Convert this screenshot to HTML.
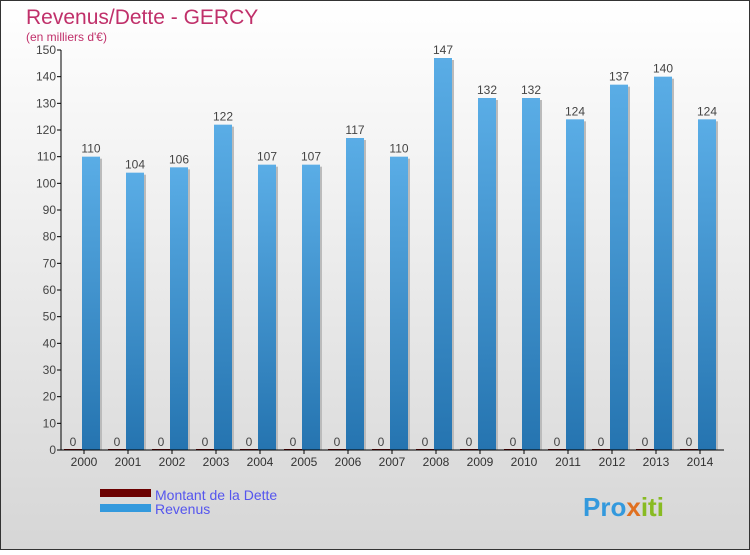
<!DOCTYPE html>
<html><head><meta charset="utf-8"><style>
html,body{margin:0;padding:0}
body{width:750px;height:550px;overflow:hidden;font-family:"Liberation Sans",sans-serif}
</style></head><body>
<svg width="750" height="550" xmlns="http://www.w3.org/2000/svg" id="svg">
<defs>
<linearGradient id="bg" x1="0" y1="0" x2="0" y2="1"><stop offset="0" stop-color="#ffffff"/><stop offset="1" stop-color="#d6d6d6"/></linearGradient>
<linearGradient id="blue" x1="0" y1="0" x2="0" y2="1"><stop offset="0" stop-color="#5aade6"/><stop offset="1" stop-color="#2574b0"/></linearGradient>
</defs>
<rect x="0.5" y="0.5" width="749" height="549" fill="url(#bg)" stroke="#333"/>
<text x="26" y="24" font-size="21" fill="#c0306a">Revenus/Dette - GERCY</text>
<text x="26" y="41" font-size="12" fill="#c0306a">(en milliers d'€)</text>
<g id="plot"></g>
<g>
<rect x="100" y="489" width="51" height="8" fill="#6b0000"/>
<text x="155" y="500" font-size="14" fill="#5555ee">Montant de la Dette</text>
<rect x="100" y="504" width="51" height="8" fill="#3399dd"/>
<text x="155" y="514" font-size="14" fill="#5555ee">Revenus</text>
</g>
<text x="583" y="516" font-size="26" font-weight="bold" fill="#3399dd">Pro<tspan fill="#e07020">x</tspan><tspan fill="#88bb22">iti</tspan></text>
</svg>
<script>
const years=["2000","2001","2002","2003","2004","2005","2006","2007","2008","2009","2010","2011","2012","2013","2014"];
const revenus=[110,104,106,122,107,107,117,110,147,132,132,124,137,140,124];
const dette=[0,0,0,0,0,0,0,0,0,0,0,0,0,0,0];
const ticks=[0,10,20,30,40,50,60,70,80,90,100,110,120,130,140,150];
const NS="http://www.w3.org/2000/svg";
const g=document.getElementById('plot');
const x0=62,x1=722,yb=450,yt=50,ymax=150;
const gw=(x1-x0)/years.length;
function y(v){return yb-(v/ymax)*(yb-yt);}
function mk(t,a){const e=document.createElementNS(NS,t);for(const k in a)e.setAttribute(k,a[k]);g.appendChild(e);return e;}
ticks.forEach(t=>{
 const l=mk('line',{x1:57,x2:61,y1:y(t),y2:y(t),stroke:'#000'});
 
 
 const tx=mk('text',{x:56,y:y(t)+4,'font-size':12,'text-anchor':'end',fill:'#444'});
 tx.textContent=t;
 
 
});
years.forEach((yr,i)=>{
 const c=x0+gw*i+gw/2;
 const d=mk('rect',{x:c-20,y:y(dette[i])-1,width:18,height:(yb-y(dette[i]))+1,fill:'#6b0000'});
 
 
 const dl=mk('text',{x:c-11,y:y(dette[i])-4,'font-size':12,'text-anchor':'middle',fill:'#444'});
 dl.textContent=dette[i];
 
 
 const sh=mk('rect',{x:c-2+2,y:y(revenus[i])+2,width:18,height:yb-y(revenus[i])-2,fill:'#bbb'});
 
 
 const b=mk('rect',{x:c-2,y:y(revenus[i]),width:18,height:yb-y(revenus[i]),fill:'url(#blue)'});
 
 
 const bl=mk('text',{x:c+7,y:y(revenus[i])-4,'font-size':12,'text-anchor':'middle',fill:'#444'});
 bl.textContent=revenus[i];
 
 
 const xl=mk('text',{x:c,y:466,'font-size':12,'text-anchor':'middle',fill:'#333'});
 xl.textContent=yr;
 
 
 const xt=mk('line',{x1:c,x2:c,y1:450,y2:454,stroke:'#000'});
 
 
});
const ya=mk('line',{x1:61,x2:61,y1:50,y2:450,stroke:'#000'});


const xa=mk('line',{x1:61,x2:724,y1:450,y2:450,stroke:'#000'});


</script>
</body></html>
